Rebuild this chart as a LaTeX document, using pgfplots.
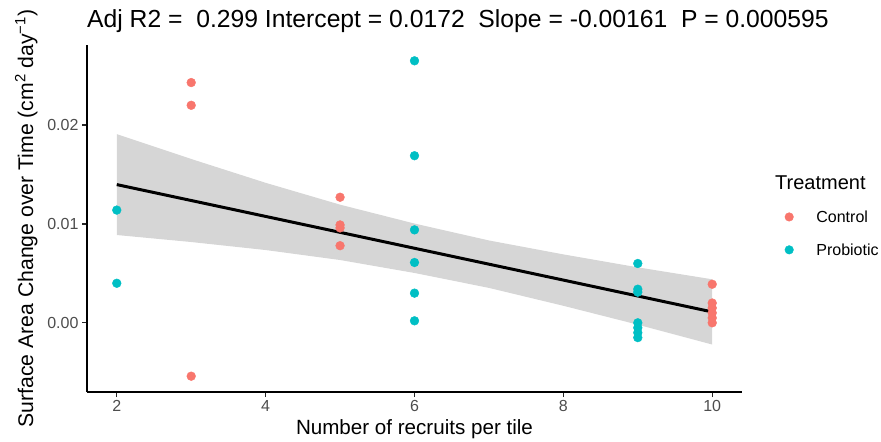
\documentclass[border=0pt]{standalone}
\usepackage{fontspec}
\setmainfont{Liberation Sans}
\usepackage{pgfplots}
\usepgfplotslibrary{fillbetween}
\pgfplotsset{compat=1.18}
\definecolor{ctrl}{HTML}{F8766D}
\definecolor{prob}{HTML}{00BFC4}
\definecolor{band}{HTML}{D6D6D6}
\definecolor{tickgray}{HTML}{4D4D4D}
\begin{document}
\begin{tikzpicture}
\begin{axis}[
  at={(87pt,48pt)}, anchor=south west,
  scale only axis, width=655pt, height=347pt,
  xmin=1.6, xmax=10.4, ymin=-0.0070, ymax=0.0281,
  axis lines=left, axis line style={-, line width=1.2pt, black},
  tick align=outside, major tick length=5pt,
  tick style={line width=1.2pt, color=black!85},
  xtick={2,4,6,8,10},
  ytick={0,0.01,0.02}, yticklabels={0.00,0.01,0.02},
  scaled y ticks=false,
  /pgf/number format/assume math mode=true,
  ticklabel style={font=\fontsize{16}{19}\selectfont, text=tickgray},
  xlabel={Number of recruits per tile},
  xlabel style={at={([yshift=-42pt]axis description cs:0.5,0)}, anchor=base, font=\fontsize{20.6}{24}\selectfont},
  ylabel={Surface Area Change over Time (cm\textsuperscript{2} day\textsuperscript{−1})},
  ylabel style={at={([xshift=-54pt]axis description cs:0,0.5)}, anchor=base, font=\fontsize{21.2}{25}\selectfont},
  title={Adj R2 =~~0.299 Intercept = 0.0172~~Slope = -0.00161~~P = 0.000595},
  title style={at={([yshift=11pt]axis description cs:0,1)}, anchor=base west, font=\fontsize{24.7}{29}\selectfont, inner sep=0pt},
  legend style={at={(axis description cs:1,0.5)}, anchor=west, xshift=42.7pt, yshift=-14.9pt,
    draw=none, fill=none, inner sep=0pt, outer sep=0pt, row sep=21.3pt, column sep=0pt,
    font=\fontsize{16}{19}\selectfont,
    nodes={inner sep=0pt, text height=11.6pt, text depth=0pt}},
  legend cell align=left,
  /tikz/every odd column/.append style={column sep=22.7pt},
  legend image code/.code={\fill[#1] (4.3pt,0pt) circle (4.3pt);},
]
% confidence band
\addplot[name path=upper, draw=none, forget plot] coordinates {
  (2,0.01908) (3,0.01657) (4,0.01416) (5,0.01195) (6,0.01004) (7,0.00833) (8,0.00692) (9,0.00561) (10,0.0044)};
\addplot[name path=lower, draw=none, forget plot] coordinates {
  (2,0.00888) (3,0.00817) (4,0.00736) (5,0.00635) (6,0.00504) (7,0.00353) (8,0.00172) (9,-0.00019) (10,-0.0022)};
\addplot[fill=band, draw=none, forget plot] fill between[of=upper and lower];
% fit line
\addplot[black, line width=3pt, forget plot] coordinates {(2,0.01398) (10,0.0011)};
% Control
\addplot[only marks, mark=*, mark size=4.4pt, color=ctrl, mark options={draw=ctrl, fill=ctrl}] coordinates {
  (3,0.0243) (3,0.0220) (3,-0.0054)
  (5,0.0127) (5,0.0099) (5,0.0096) (5,0.0078)
  (10,0.0039) (10,0.0020) (10,0.0015) (10,0.0010) (10,0.0005) (10,0.0000)};
\addlegendentry{Control}
% Probiotic
\addplot[only marks, mark=*, mark size=4.4pt, color=prob, mark options={draw=prob, fill=prob}] coordinates {
  (2,0.0114) (2,0.0040)
  (6,0.0265) (6,0.0169) (6,0.0094) (6,0.0061) (6,0.0030) (6,0.0002)
  (9,0.0060) (9,0.0034) (9,0.0031) (9,0.0000) (9,-0.0005) (9,-0.0010) (9,-0.0015)};
\addlegendentry{Probiotic}
\end{axis}
\node[anchor=base west, font=\fontsize{20}{24}\selectfont, inner sep=0pt] at (775pt,250pt) {Treatment};
\path (0pt,0pt) rectangle (881pt,440pt);
\end{tikzpicture}
\end{document}
